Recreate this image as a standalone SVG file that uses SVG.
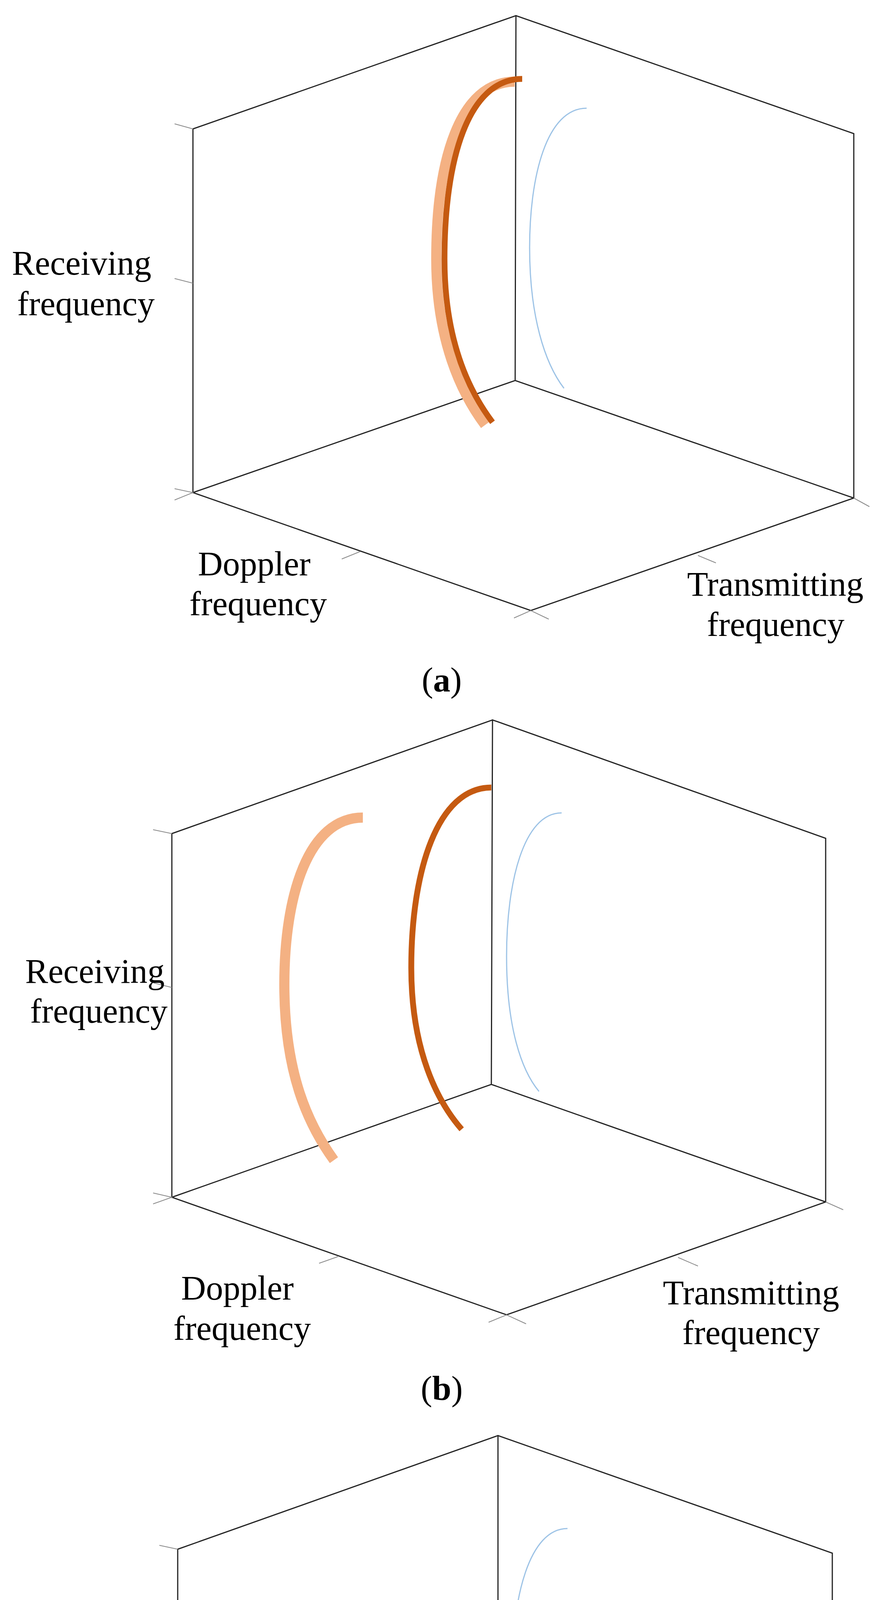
<svg xmlns="http://www.w3.org/2000/svg" width="2248" height="5433" viewBox="0 0 2248 5433">
<style>
.ax{stroke:#222;stroke-width:3;fill:none;stroke-linecap:round}
.tk{stroke:#8a8a8a;stroke-width:2;fill:none}
.lt{stroke:#F4B183;stroke-width:26;fill:none}
.dk{stroke:#C55A11;stroke-width:15;fill:none}
.bl{stroke:#9DC3E6;stroke-width:3;fill:none}
.t{font-family:"Liberation Serif","Times New Roman",serif;font-size:88px;fill:#000;text-anchor:middle}
.cap{font-family:"Liberation Serif","Times New Roman",serif;font-size:88px;fill:#000;text-anchor:middle}
</style>
<rect width="2248" height="5433" fill="#fff"/>
<g id="panel-a">
<g class="ax">
<path d="M494,330 L1321,40 L2186,342 L2186,1275 L1359,1563 L494,1261 Z"/>
<path d="M1321,40 L1319,974 M494,1261 L1319,974 L2186,1275"/>
</g>
<g class="tk">
<path d="M447,317 L494,330 M447,713 L494,725 M447,1251 L494,1261 L447,1280 M875,1431 L922,1412 M1316,1582 L1359,1563 L1405,1585 M1787,1422 L1833,1441 M2186,1275 L2226,1297"/>
</g>
<path class="lt" d="M1318,209 C1177,209 1117,410 1117,663 C1117,870 1180,1005 1242,1088"/>
<path class="dk" d="M1337,202 C1198,202 1138,410 1138,663 C1138,870 1200,1000 1261,1081"/>
<path class="bl" d="M1502,277 C1400,277 1356,450 1356,634 C1356,810 1395,930 1444,994"/>
<text class="t" x="209" y="703">Receiving</text>
<text class="t" x="220" y="807">frequency</text>
<text class="t" x="651" y="1473">Doppler</text>
<text class="t" x="661" y="1575">frequency</text>
<text class="t" x="1985" y="1525">Transmitting</text>
<text class="t" x="1986" y="1628">frequency</text>
<text class="cap" x="1131" y="1770">(<tspan font-weight="bold">a</tspan>)</text>
</g>
<g id="panel-b">
<g class="ax">
<path d="M440,2134 L1261,1843 L2114,2146 L2114,3077 L1297,3366 L440,3065 Z"/>
<path d="M1261,1843 L1258,2776 M440,3065 L1258,2776 L2114,3077"/>
</g>
<g class="tk">
<path d="M392,2124 L440,2134 M392,2516 L440,2528 M392,3054 L440,3065 L392,3082 M817,3234 L865,3217 M1251,3385 L1297,3366 L1347,3389 M1736,3219 L1787,3241 M2114,3077 L2159,3097"/>
</g>
<path class="lt" d="M929,2093 C790,2093 728,2290 728,2520 C728,2750 790,2880 855,2970"/>
<path class="dk" d="M1258,2016 C1120,2016 1053,2230 1053,2477 C1053,2690 1120,2820 1182,2891"/>
<path class="bl" d="M1438,2081 C1340,2081 1297,2260 1297,2448 C1297,2630 1335,2740 1380,2794"/>
<text class="t" x="243" y="2516">Receiving</text>
<text class="t" x="253" y="2618">frequency</text>
<text class="t" x="608" y="3327">Doppler</text>
<text class="t" x="620" y="3430">frequency</text>
<text class="t" x="1923" y="3339">Transmitting</text>
<text class="t" x="1923" y="3441">frequency</text>
<text class="cap" x="1131" y="3584">(<tspan font-weight="bold">b</tspan>)</text>
</g>
<g id="panel-c">
<g class="ax">
<path d="M455,3966 L1275,3675 L2131,3976 L2131,4910 L1311,5200 L455,4897 Z"/>
<path d="M1275,3675 L1275,4609 M455,4897 L1275,4609 L2131,4910"/>
</g>
<g class="tk">
<path d="M408,3956 L455,3966 M408,4352 L455,4362 M408,4885 L455,4897 L408,4914 M833,5066 L879,5047 M1268,5217 L1311,5200 L1362,5221 M1718,5061 L1772,5080 M2131,4910 L2179,4931"/>
</g>
<path class="bl" d="M1453,3913 C1355,3913 1311,4090 1311,4280 C1311,4460 1350,4570 1395,4629"/>
<text class="t" x="258" y="4333">Receiving</text>
<text class="t" x="270" y="4434">frequency</text>
<text class="t" x="623" y="5102">Doppler</text>
<text class="t" x="633" y="5202">frequency</text>
<text class="t" x="1942" y="5176">Transmitting</text>
<text class="t" x="1941" y="5277">frequency</text>
<text class="cap" x="1131" y="5397">(<tspan font-weight="bold">c</tspan>)</text>
</g>
</svg>
